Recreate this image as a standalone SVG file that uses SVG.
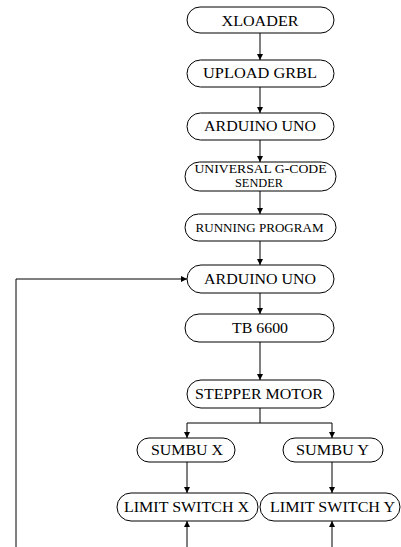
<svg xmlns="http://www.w3.org/2000/svg" width="401" height="547" viewBox="0 0 401 547">
<style>
.box{fill:#fff;stroke:#000;stroke-width:1}
.t{font-family:"Liberation Serif","Times New Roman",serif;font-size:14px;fill:#000;text-anchor:middle}
.s{font-size:12px}
.c{fill:none;stroke:#000;stroke-width:1}
</style>
<defs>
<marker id="ah" markerUnits="userSpaceOnUse" markerWidth="7" markerHeight="7" refX="6" refY="3" orient="auto">
<path d="M0,0 L6,3 L0,6 z" fill="#000"/>
</marker>
</defs>
<rect width="401" height="547" fill="#fff"/>
<g id="connectors">
<path class="c" d="M260,33 V60" marker-end="url(#ah)"/>
<path class="c" d="M260,87 V113" marker-end="url(#ah)"/>
<path class="c" d="M260,140 V162" marker-end="url(#ah)"/>
<path class="c" d="M260,191 V214" marker-end="url(#ah)"/>
<path class="c" d="M260,241 V265" marker-end="url(#ah)"/>
<path class="c" d="M260,293 V314" marker-end="url(#ah)"/>
<path class="c" d="M260,342 V380" marker-end="url(#ah)"/>
<path class="c" d="M260,408 V423 H187 V438" marker-end="url(#ah)"/>
<path class="c" d="M260,423 H332 V438" marker-end="url(#ah)"/>
<path class="c" d="M187,462 V493" marker-end="url(#ah)"/>
<path class="c" d="M332,462 V493" marker-end="url(#ah)"/>
<path class="c" d="M187,547 V521" marker-end="url(#ah)"/>
<path class="c" d="M332,547 V521" marker-end="url(#ah)"/>
<path class="c" d="M16,547 V279 H187" marker-end="url(#ah)"/>
</g>
<g id="xloader"><rect class="box" x="187" y="7" width="147" height="26" rx="13"/><text class="t" x="260" y="25.5" textLength="77" lengthAdjust="spacingAndGlyphs">XLOADER</text></g>
<g id="upload-grbl"><rect class="box" x="187" y="60" width="147" height="27" rx="13.5"/><text class="t" x="260" y="78" textLength="114" lengthAdjust="spacingAndGlyphs">UPLOAD GRBL</text></g>
<g id="arduino-uno-1"><rect class="box" x="187" y="113" width="147" height="27" rx="13.5"/><text class="t" x="260" y="131" textLength="112" lengthAdjust="spacingAndGlyphs">ARDUINO UNO</text></g>
<g id="ugs"><rect class="box" x="185" y="162" width="151" height="29" rx="14.5"/><text class="t s" x="260.5" y="173" textLength="132" lengthAdjust="spacingAndGlyphs">UNIVERSAL G-CODE</text><text class="t s" x="259" y="186.5" textLength="48" lengthAdjust="spacingAndGlyphs">SENDER</text></g>
<g id="running-program"><rect class="box" x="185" y="214" width="151" height="27" rx="13.5"/><text class="t s" x="259.5" y="231.5" textLength="128" lengthAdjust="spacingAndGlyphs">RUNNING PROGRAM</text></g>
<g id="arduino-uno-2"><rect class="box" x="187" y="265" width="147" height="28" rx="14"/><text class="t" x="260" y="283.5" textLength="112" lengthAdjust="spacingAndGlyphs">ARDUINO UNO</text></g>
<g id="tb6600"><rect class="box" x="185" y="314" width="149" height="28" rx="14"/><text class="t" x="260" y="332.5" textLength="56" lengthAdjust="spacingAndGlyphs">TB 6600</text></g>
<g id="stepper-motor"><rect class="box" x="187" y="380" width="147" height="28" rx="14"/><text class="t" x="259" y="398.5" textLength="128" lengthAdjust="spacingAndGlyphs">STEPPER MOTOR</text></g>
<g id="sumbu-x"><rect class="box" x="137" y="438" width="98" height="24" rx="12"/><text class="t" x="187" y="454.5" textLength="72" lengthAdjust="spacingAndGlyphs">SUMBU X</text></g>
<g id="sumbu-y"><rect class="box" x="283" y="438" width="100" height="24" rx="12"/><text class="t" x="332.5" y="454.5" textLength="73" lengthAdjust="spacingAndGlyphs">SUMBU Y</text></g>
<g id="limit-switch-x"><rect class="box" x="117" y="493" width="141" height="28" rx="14"/><text class="t" x="186.5" y="511.5" textLength="125" lengthAdjust="spacingAndGlyphs">LIMIT SWITCH X</text></g>
<g id="limit-switch-y"><rect class="box" x="260" y="493" width="140" height="28" rx="14"/><text class="t" x="332.5" y="511.5" textLength="125" lengthAdjust="spacingAndGlyphs">LIMIT SWITCH Y</text></g>
</svg>
